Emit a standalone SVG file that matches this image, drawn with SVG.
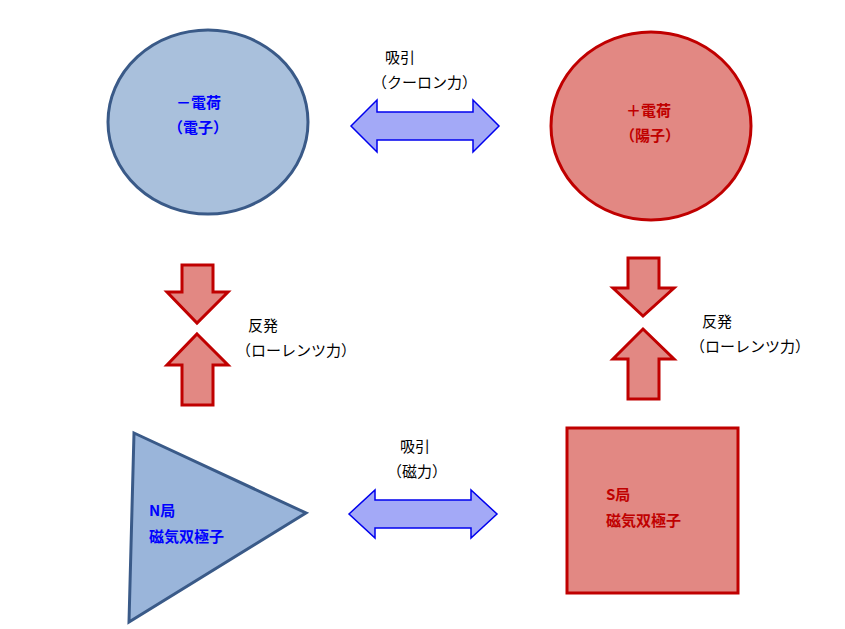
<svg xmlns="http://www.w3.org/2000/svg" width="845" height="629" viewBox="0 0 845 629">
<style>
text{font-family:"Noto Sans CJK JP","Liberation Sans",sans-serif;font-size:15px}
.b{fill:#a9c0dc;stroke:#3a5a88;stroke-width:3}
.r{fill:#e28883;stroke:#c00000;stroke-width:3}
.ba{fill:#a3a9f7;stroke:#0000ee;stroke-width:1.5}
.ra{fill:#e28883;stroke:#c00000;stroke-width:3}
.bt{fill:#0000ff;font-weight:bold}
.rt{fill:#c00000;font-weight:bold}
.k{fill:#000}
</style>
<rect width="845" height="629" fill="#fff"/>
<g id="electron"><ellipse class="b" cx="208" cy="122" rx="100" ry="92"/><text class="bt" x="176" y="108">－電荷</text><text class="bt" x="168" y="133">（電子）</text></g>
<g id="proton"><ellipse class="r" cx="651" cy="126" rx="100" ry="94"/><text class="rt" x="626" y="116">＋電荷</text><text class="rt" x="620" y="141">（陽子）</text></g>
<g id="npole"><polygon class="b" style="fill:#9ab5da" points="134,433 306,513 129,622"/><text class="bt" x="149" y="516">N局</text><text class="bt" x="149" y="542">磁気双極子</text></g>
<g id="spole"><rect class="r" x="567" y="428" width="171" height="165"/><text class="rt" x="606" y="500">S局</text><text class="rt" x="606" y="526">磁気双極子</text></g>
<g id="connectors">
<polygon class="ba" points="351,126 377,100 377,112 473,112 473,100 499,126 473,152 473,140 377,140 377,152"/>
<polygon class="ba" points="349,514 375,490 375,500 471,500 471,490 497,514 471,538 471,528 375,528 375,538"/>
<polygon class="ra" points="182,265 213,265 213,292 228,292 197,323 167,292 182,292"/>
<polygon class="ra" points="197,334 228,365 213,365 213,405 182,405 182,365 167,365"/>
<polygon class="ra" points="628,258 659,258 659,288 674,288 643,316 613,288 628,288"/>
<polygon class="ra" points="643,329 674,359 659,359 659,399 628,399 628,359 613,359"/>
</g>
<g id="labels">
<text class="k" x="385" y="63">吸引</text><text class="k" x="372" y="88">（クーロン力）</text>
<text class="k" x="400" y="452">吸引</text><text class="k" x="387" y="477">（磁力）</text>
<text class="k" x="248" y="331">反発</text><text class="k" x="236" y="356">（ローレンツ力）</text>
<text class="k" x="702" y="327">反発</text><text class="k" x="690" y="352">（ローレンツ力）</text>
</g>
</svg>
